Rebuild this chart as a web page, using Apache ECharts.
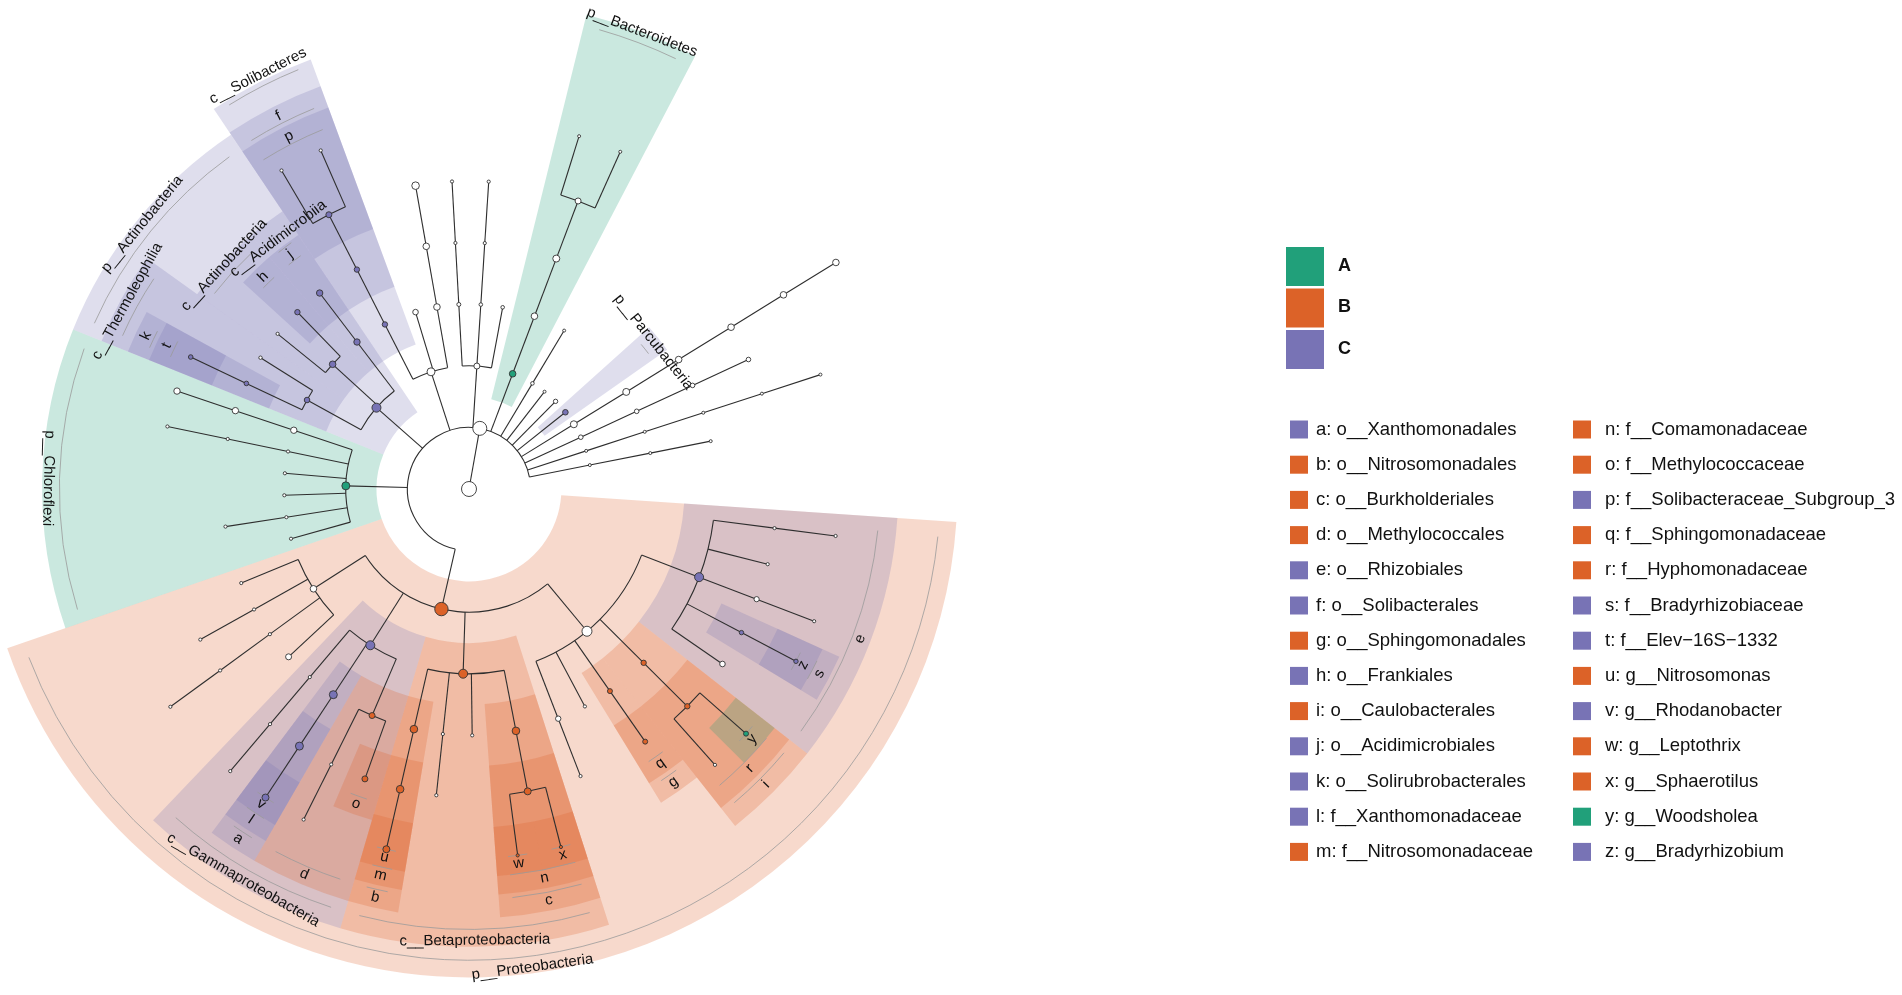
<!DOCTYPE html>
<html>
<head>
<meta charset="utf-8">
<script src="https://cdn.jsdelivr.net/npm/echarts@6/dist/echarts.min.js"></script>
<style>
  html, body { margin: 0; padding: 0; background: #fff; }
  #chart { width: 1902px; height: 995px; }
</style>
</head>
<body>
<div id="chart"></div>
<script>
// cladogram, children listed clockwise: [taxon, parent, node radius (abundance)]
const taxa = [
  ['root', '', 7.5],
  ['k__Bacteria', 'root', 7],
  ['p__Proteobacteria', 'k__Bacteria', 6.7],
  ['c__Alphaproteobacteria', 'p__Proteobacteria', 5],
  ['o__Rhizobiales', 'c__Alphaproteobacteria', 4.5],
  ['f_rh1', 'o__Rhizobiales', 1.6],
  ['g_rh1', 'f_rh1', 1.6],
  ['f_rh2', 'o__Rhizobiales', 1.6],
  ['f_rh3', 'o__Rhizobiales', 2.6],
  ['g_rh3', 'f_rh3', 1.6],
  ['f__Bradyrhizobiaceae', 'o__Rhizobiales', 2.2],
  ['g__Bradyrhizobium', 'f__Bradyrhizobiaceae', 2.2],
  ['f_rh5', 'o__Rhizobiales', 2.8],
  ['o__Caulobacterales', 'c__Alphaproteobacteria', 2.7],
  ['f__Hyphomonadaceae', 'o__Caulobacterales', 2.7],
  ['g__Woodsholea', 'f__Hyphomonadaceae', 2.5],
  ['g_hy2', 'f__Hyphomonadaceae', 1.6],
  ['o__Sphingomonadales', 'c__Alphaproteobacteria', 2.5],
  ['f__Sphingomonadaceae', 'o__Sphingomonadales', 2.5],
  ['o_al4', 'c__Alphaproteobacteria', 1.6],
  ['o_al5', 'c__Alphaproteobacteria', 2.7],
  ['f_al5', 'o_al5', 1.6],
  ['c__Betaproteobacteria', 'p__Proteobacteria', 4.5],
  ['o__Burkholderiales', 'c__Betaproteobacteria', 3.8],
  ['f__Comamonadaceae', 'o__Burkholderiales', 3.5],
  ['g__Sphaerotilus', 'f__Comamonadaceae', 1.6],
  ['g__Leptothrix', 'f__Comamonadaceae', 1.6],
  ['o_be2', 'c__Betaproteobacteria', 1.6],
  ['o_be3', 'c__Betaproteobacteria', 1.6],
  ['f_be3', 'o_be3', 1.6],
  ['o__Nitrosomonadales', 'c__Betaproteobacteria', 3.8],
  ['f__Nitrosomonadaceae', 'o__Nitrosomonadales', 3.8],
  ['g__Nitrosomonas', 'f__Nitrosomonadaceae', 3.5],
  ['c__Gammaproteobacteria', 'p__Proteobacteria', 4.5],
  ['o__Methylococcales', 'c__Gammaproteobacteria', 3],
  ['f__Methylococcaceae', 'o__Methylococcales', 3],
  ['f_me2', 'o__Methylococcales', 1.6],
  ['g_me2', 'f_me2', 1.6],
  ['o__Xanthomonadales', 'c__Gammaproteobacteria', 4],
  ['f__Xanthomonadaceae', 'o__Xanthomonadales', 4],
  ['g__Rhodanobacter', 'f__Xanthomonadaceae', 3.5],
  ['o_ga3', 'c__Gammaproteobacteria', 1.6],
  ['f_ga3', 'o_ga3', 1.6],
  ['g_ga3', 'f_ga3', 1.6],
  ['c_pr4', 'p__Proteobacteria', 3.3],
  ['o_pr4a', 'c_pr4', 3],
  ['o_pr4b', 'c_pr4', 1.6],
  ['f_pr4b', 'o_pr4b', 1.6],
  ['g_pr4b', 'f_pr4b', 1.6],
  ['o_pr4c', 'c_pr4', 1.6],
  ['f_pr4c', 'o_pr4c', 1.6],
  ['o_pr4d', 'c_pr4', 1.6],
  ['p__Chloroflexi', 'k__Bacteria', 4],
  ['c_ch1', 'p__Chloroflexi', 1.6],
  ['c_ch2', 'p__Chloroflexi', 1.6],
  ['o_ch2', 'c_ch2', 1.6],
  ['c_ch3', 'p__Chloroflexi', 1.6],
  ['c_ch4', 'p__Chloroflexi', 1.6],
  ['c_ch5', 'p__Chloroflexi', 1.6],
  ['o_ch5', 'c_ch5', 1.6],
  ['f_ch5', 'o_ch5', 1.6],
  ['c_ch6', 'p__Chloroflexi', 3.2],
  ['o_ch6', 'c_ch6', 3.2],
  ['f_ch6', 'o_ch6', 3.2],
  ['p__Actinobacteria', 'k__Bacteria', 4.5],
  ['c__Thermoleophilia', 'p__Actinobacteria', 2.8],
  ['o__Solirubrobacterales', 'c__Thermoleophilia', 2.3],
  ['f__Elev-16S-1332', 'o__Solirubrobacterales', 2.3],
  ['o_th2', 'c__Thermoleophilia', 1.7],
  ['c__Actinobacteria', 'p__Actinobacteria', 3.3],
  ['o_ac1', 'c__Actinobacteria', 1.6],
  ['o__Frankiales', 'c__Actinobacteria', 2.7],
  ['c__Acidimicrobiia', 'p__Actinobacteria', 3.2],
  ['o__Acidimicrobiales', 'c__Acidimicrobiia', 3.2],
  ['p_acido', 'k__Bacteria', 4],
  ['c__Solibacteres', 'p_acido', 2.7],
  ['o__Solibacterales', 'c__Solibacteres', 2.7],
  ['f__Solibacteraceae_Subgroup_3', 'o__Solibacterales', 3],
  ['g_so1', 'f__Solibacteraceae_Subgroup_3', 1.6],
  ['g_so2', 'f__Solibacteraceae_Subgroup_3', 1.6],
  ['c_ab2', 'p_acido', 2.8],
  ['c_ab3', 'p_acido', 3.3],
  ['o_ab3', 'c_ab3', 3.3],
  ['f_ab3', 'o_ab3', 3.8],
  ['p_x1', 'k__Bacteria', 3],
  ['c_x1a', 'p_x1', 2],
  ['o_x1a', 'c_x1a', 1.6],
  ['f_x1a', 'o_x1a', 1.6],
  ['c_x1b', 'p_x1', 1.8],
  ['o_x1b', 'c_x1b', 1.6],
  ['f_x1b', 'o_x1b', 1.6],
  ['c_x1c', 'p_x1', 1.8],
  ['p__Bacteroidetes', 'k__Bacteria', 3.3],
  ['c_bd', 'p__Bacteroidetes', 3.3],
  ['o_bd', 'c_bd', 3.5],
  ['f_bd', 'o_bd', 3],
  ['g_bd1', 'f_bd', 1.5],
  ['g_bd2', 'f_bd', 1.5],
  ['p_x2', 'k__Bacteria', 1.8],
  ['c_x2', 'p_x2', 1.5],
  ['p_x3', 'k__Bacteria', 1.5],
  ['p_x4', 'k__Bacteria', 2.2],
  ['p__Parcubacteria', 'k__Bacteria', 2.8],
  ['p_x5', 'k__Bacteria', 3.5],
  ['c_x5', 'p_x5', 3.5],
  ['o_x5', 'c_x5', 3.3],
  ['f_x5', 'o_x5', 3.3],
  ['g_x5', 'f_x5', 3.3],
  ['s_x5', 'g_x5', 3.3],
  ['p_x6', 'k__Bacteria', 2.3],
  ['c_x6', 'p_x6', 2.3],
  ['o_x6', 'c_x6', 2.3],
  ['f_x6', 'o_x6', 2.3],
  ['p_x7', 'k__Bacteria', 1.5],
  ['c_x7', 'p_x7', 1.5],
  ['o_x7', 'c_x7', 1.5],
  ['f_x7', 'o_x7', 1.5],
  ['g_x7', 'f_x7', 1.5],
  ['p_x8', 'k__Bacteria', 1.5],
  ['c_x8', 'p_x8', 1.5],
  ['o_x8', 'c_x8', 1.5]
];

const groups = ['A', 'B', 'C'];
const groupColors = ['#21a07a', '#dc6228', '#7873b5'];

// LDA biomarkers: [taxon, enriched group]
const biomarkers = [
  ['p__Proteobacteria', 'B'], ['p__Chloroflexi', 'A'], ['p__Actinobacteria', 'C'],
  ['p__Bacteroidetes', 'A'], ['p__Parcubacteria', 'C'],
  ['c__Betaproteobacteria', 'B'], ['c__Gammaproteobacteria', 'C'], ['c__Thermoleophilia', 'C'],
  ['c__Actinobacteria', 'C'], ['c__Acidimicrobiia', 'C'], ['c__Solibacteres', 'C'],
  ['o__Xanthomonadales', 'C'], ['o__Nitrosomonadales', 'B'], ['o__Burkholderiales', 'B'],
  ['o__Methylococcales', 'B'], ['o__Rhizobiales', 'C'], ['o__Solibacterales', 'C'],
  ['o__Sphingomonadales', 'B'], ['o__Frankiales', 'C'], ['o__Caulobacterales', 'B'],
  ['o__Acidimicrobiales', 'C'], ['o__Solirubrobacterales', 'C'],
  ['f__Xanthomonadaceae', 'C'], ['f__Nitrosomonadaceae', 'B'], ['f__Comamonadaceae', 'B'],
  ['f__Methylococcaceae', 'B'], ['f__Solibacteraceae_Subgroup_3', 'C'], ['f__Sphingomonadaceae', 'B'],
  ['f__Hyphomonadaceae', 'B'], ['f__Bradyrhizobiaceae', 'C'], ['f__Elev-16S-1332', 'C'],
  ['g__Nitrosomonas', 'B'], ['g__Rhodanobacter', 'C'], ['g__Leptothrix', 'B'],
  ['g__Sphaerotilus', 'B'], ['g__Woodsholea', 'A'], ['g__Bradyrhizobium', 'C']
];

// abbreviation keys
const letterKeys = [
  ['a', 'o__Xanthomonadales'], ['b', 'o__Nitrosomonadales'], ['c', 'o__Burkholderiales'],
  ['d', 'o__Methylococcales'], ['e', 'o__Rhizobiales'], ['f', 'o__Solibacterales'],
  ['g', 'o__Sphingomonadales'], ['h', 'o__Frankiales'], ['i', 'o__Caulobacterales'],
  ['j', 'o__Acidimicrobiales'], ['k', 'o__Solirubrobacterales'], ['l', 'f__Xanthomonadaceae'],
  ['m', 'f__Nitrosomonadaceae'], ['n', 'f__Comamonadaceae'], ['o', 'f__Methylococcaceae'],
  ['p', 'f__Solibacteraceae_Subgroup_3'], ['q', 'f__Sphingomonadaceae'], ['r', 'f__Hyphomonadaceae'],
  ['s', 'f__Bradyrhizobiaceae'], ['t', 'f__Elev-16S-1332'], ['u', 'g__Nitrosomonas'],
  ['v', 'g__Rhodanobacter'], ['w', 'g__Leptothrix'], ['x', 'g__Sphaerotilus'],
  ['y', 'g__Woodsholea'], ['z', 'g__Bradyrhizobium']
];

// labels moved off their ring so neighbours do not collide (in levels)
const labelShift = [
  ['c__Acidimicrobiia', -0.22], ['c__Actinobacteria', 0.06],
  ['c__Solibacteres', 0.2], ['p__Bacteroidetes', 0.1]
];

// layout of the circle
const firstLeafDeg = 7.3;   // screen angle of the first leaf, clockwise from east
const leafStepDeg = 6.83;   // angle per leaf
const levelPx = 61.6;       // radial distance between taxonomic levels
const ringOffset = [0, 0, 1.43, 0.93, 0.47, 0.1, -0.2]; // label ring past the deepest child, per level
const FONT = '"Liberation Sans", Arial, sans-serif';

const colorOf = g => groupColors[groups.indexOf(g)];
const tint = (hex, a) => {
  const n = parseInt(hex.slice(1), 16);
  return `rgba(${n >> 16},${(n >> 8) & 255},${n & 255},${a})`;
};

// build the tree and place leaves in order
const nodeById = {};
const nodes = taxa.map(([id, parent, size]) => (nodeById[id] = { id, parent, size, kids: [] }));
nodes.forEach(n => { if (n.parent) nodeById[n.parent].kids.push(n); });
let leafCount = 0;
(function place(n, level) {
  n.level = level;
  if (!n.kids.length) {
    n.pos = n.first = n.last = leafCount++;
    n.deep = level;
    return;
  }
  n.kids.forEach(k => place(k, level + 1));
  n.pos = n.kids.reduce((s, k) => s + k.pos, 0) / n.kids.length;
  n.first = n.kids[0].first;
  n.last = n.kids[n.kids.length - 1].last;
  n.deep = Math.max(...n.kids.map(k => k.deep));
})(nodes[0], 0);

const groupOf = {};
biomarkers.forEach(([id, g]) => { groupOf[id] = g; });
const letterOf = {};
letterKeys.forEach(([l, id]) => { letterOf[id] = l; });
const shiftOf = {};
labelShift.forEach(([id, d]) => { shiftOf[id] = d; });

const clades = biomarkers.map(([id, g]) => {
  const n = nodeById[id];
  return {
    id, group: g, level: n.level, pos: n.pos, first: n.first, last: n.last,
    outer: n.deep + 0.5 + ringOffset[n.level],
    label: n.level <= 3 ? id : letterOf[id],
    shift: shiftOf[id] || 0
  };
}).sort((a, b) => a.level - b.level);

function polarKit(params, api) {
  const cx = params.coordSys.cx, cy = params.coordSys.cy;
  const pt = (r, a) => api.coord([r, a]);
  const px = r => { const p = api.coord([r, 0]); return Math.hypot(p[0] - cx, p[1] - cy); };
  const rad = a => { const p = api.coord([1, a]); return Math.atan2(p[1] - cy, p[0] - cx); };
  const span = (a0, a1) => {
    const s = rad(a0);
    let e = rad(a1);
    while (e < s) e += 2 * Math.PI;
    return [s, e];
  };
  return { cx, cy, pt, px, rad, span };
}

const angleMin = -firstLeafDeg / leafStepDeg;
const angleMax = angleMin + 360 / leafStepDeg;

const legendGraphics = [];
groups.forEach((g, i) => {
  legendGraphics.push({
    type: 'rect', x: 1286, y: 247 + i * 41.5,
    shape: { width: 38, height: 39 }, style: { fill: groupColors[i] }
  });
  legendGraphics.push({
    type: 'text', x: 1338, y: 266 + i * 41.5,
    style: { text: g, fill: '#111', font: 'bold 18px ' + FONT, verticalAlign: 'middle' }
  });
});
letterKeys.forEach(([l, id], i) => {
  const col = i < 13 ? 0 : 1;
  const row = i % 13;
  const yc = 429.5 + row * 35.2;
  legendGraphics.push({
    type: 'rect', x: col ? 1573 : 1290, y: yc - 9,
    shape: { width: 18, height: 18 }, style: { fill: colorOf(groupOf[id]) }
  });
  legendGraphics.push({
    type: 'text', x: col ? 1605 : 1316, y: yc,
    style: { text: l + ': ' + id.replace(/-/g, '\u2212'), fill: '#111', font: '18.5px ' + FONT, verticalAlign: 'middle' }
  });
});

const chart = echarts.init(document.getElementById('chart'));
chart.setOption({
  animation: false,
  backgroundColor: '#fff',
  polar: { center: [469, 489], radius: 8 * levelPx },
  angleAxis: {
    type: 'value', min: angleMin, max: angleMax, startAngle: 0, clockwise: true, show: false
  },
  radiusAxis: { type: 'value', min: 0, max: 8, show: false },
  graphic: legendGraphics,
  series: [
    {
      // shaded clades
      type: 'custom', coordinateSystem: 'polar', silent: true, clip: false,
      data: clades.map(c => [c.level, c.pos]),
      renderItem(params, api) {
        const k = polarKit(params, api);
        const c = clades[params.dataIndex];
        const [s, e] = k.span(c.first - 0.5, c.last + 0.5);
        return {
          type: 'sector',
          shape: { cx: k.cx, cy: k.cy, r0: k.px(c.level - 0.5), r: k.px(c.outer), startAngle: s, endAngle: e, clockwise: true },
          style: { fill: tint(colorOf(c.group), 0.24) }
        };
      }
    },
    {
      // clade names and abbreviations
      type: 'custom', coordinateSystem: 'polar', silent: true, clip: false,
      data: clades.map(c => [c.level, c.pos]),
      renderItem(params, api) {
        const k = polarKit(params, api);
        const c = clades[params.dataIndex];
        const long = c.level <= 3;
        const textR = c.outer - (long ? 0.1 : 0.17) + c.shift;
        const lineR = textR - (long ? 0.18 : 0.13);
        const mid = (c.first + c.last) / 2;
        const [s, e] = k.span(c.first - 0.22, c.last + 0.22);
        const p = k.pt(textR, mid);
        let deg = k.rad(mid) * 180 / Math.PI;
        if (deg < 0) deg += 360;
        const rot = deg < 185 ? deg - 90 : deg - 270;
        return {
          type: 'group',
          children: [
            {
              type: 'arc',
              shape: { cx: k.cx, cy: k.cy, r: k.px(lineR), startAngle: s, endAngle: e, clockwise: true },
              style: { stroke: '#9a9a9a', lineWidth: 0.8, fill: null }
            },
            {
              type: 'text', x: p[0], y: p[1], rotation: -rot * Math.PI / 180,
              style: { text: c.label, fill: '#111', font: '15px ' + FONT, align: 'center', verticalAlign: 'middle' }
            }
          ]
        };
      }
    },
    {
      // branches
      type: 'custom', coordinateSystem: 'polar', silent: true, clip: false,
      data: nodes.map(n => [n.level, n.pos]),
      renderItem(params, api) {
        const k = polarKit(params, api);
        const n = nodes[params.dataIndex];
        const children = [];
        const stroke = { stroke: '#2e2e2e', lineWidth: 1.1, fill: null };
        if (n.level > 0) {
          const a = k.pt(n.level - 1, n.pos), b = k.pt(n.level, n.pos);
          children.push({ type: 'line', shape: { x1: a[0], y1: a[1], x2: b[0], y2: b[1] }, style: stroke });
        }
        if (n.kids.length > 1) {
          const [s, e] = k.span(n.kids[0].pos, n.kids[n.kids.length - 1].pos);
          children.push({
            type: 'arc',
            shape: { cx: k.cx, cy: k.cy, r: k.px(n.level), startAngle: s, endAngle: e, clockwise: true },
            style: stroke
          });
        }
        return { type: 'group', children };
      }
    },
    {
      // taxon nodes
      type: 'custom', coordinateSystem: 'polar', silent: true, clip: false,
      data: nodes.map(n => [n.level, n.pos]),
      renderItem(params, api) {
        const k = polarKit(params, api);
        const n = nodes[params.dataIndex];
        const p = k.pt(n.level, n.pos);
        const g = groupOf[n.id];
        return {
          type: 'circle',
          shape: { cx: p[0], cy: p[1], r: n.size },
          style: { fill: g ? colorOf(g) : '#fff', stroke: '#333', lineWidth: 0.9 }
        };
      }
    }
  ]
});
</script>
</body>
</html>
